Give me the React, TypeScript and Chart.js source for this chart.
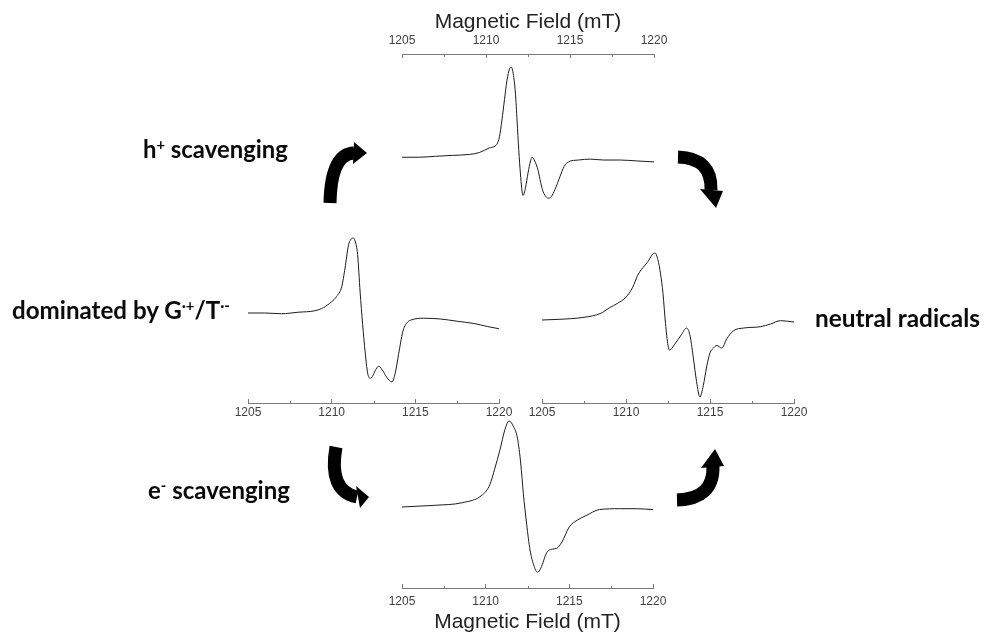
import React, { useEffect, useLayoutEffect, useRef } from "react";
import { Chart, registerables } from "chart.js";
Chart.register(...registerables);

// ---------- data ----------
const FIELD_MIN = 1205;
const FIELD_MAX = 1220;
const FIELD_STEP = 5;
const MINOR_TICKS = [1207.5, 1212.5, 1217.5];
const AXIS_TITLE = "Magnetic Field (mT)";

// top spectrum (after h+ scavenging)
const topField = [1205.0, 1206.0, 1207.0, 1208.0, 1209.0, 1209.6, 1210.2, 1210.65, 1210.8, 1210.95, 1211.1, 1211.25, 1211.4, 1211.5, 1211.6, 1211.75, 1211.85, 1211.95, 1212.05, 1212.2, 1212.35, 1212.5, 1212.65, 1212.75, 1212.9, 1213.1, 1213.25, 1213.4, 1213.6, 1213.75, 1213.9, 1214.1, 1214.4, 1214.65, 1214.9, 1215.5, 1216.2, 1217.0, 1218.0, 1219.0, 1220.0];
const topSignal = [0.03, 0.03, 0.04, 0.05, 0.06, 0.08, 0.13, 0.17, 0.25, 0.43, 0.65, 0.86, 0.98, 1.0, 0.95, 0.72, 0.42, 0.11, -0.15, -0.38, -0.3, -0.14, -0.01, 0.03, -0.01, -0.11, -0.24, -0.34, -0.4, -0.41, -0.39, -0.32, -0.18, -0.07, -0.02, 0.0, 0.01, 0.0, 0.0, -0.01, -0.02];

// left spectrum (dominated by G.+/T.-)
const leftField = [1205.0, 1206.0, 1207.0, 1208.0, 1209.0, 1209.5, 1210.0, 1210.3, 1210.6, 1210.8, 1211.0, 1211.15, 1211.28, 1211.4, 1211.55, 1211.7, 1211.85, 1212.0, 1212.15, 1212.3, 1212.45, 1212.6, 1212.8, 1213.0, 1213.3, 1213.6, 1213.8, 1214.0, 1214.25, 1214.5, 1214.8, 1215.5, 1216.5, 1217.5, 1218.5, 1219.3, 1220.0];
const leftSignal = [0.0, 0.0, -0.01, 0.01, 0.03, 0.07, 0.15, 0.22, 0.35, 0.6, 0.9, 0.98, 1.0, 0.96, 0.78, 0.28, -0.15, -0.52, -0.8, -0.87, -0.84, -0.77, -0.71, -0.75, -0.86, -0.92, -0.8, -0.55, -0.25, -0.13, -0.09, -0.07, -0.08, -0.11, -0.14, -0.18, -0.21];

// right spectrum (neutral radicals)
const rightField = [1205.0, 1206.0, 1207.5, 1208.5, 1209.0, 1209.5, 1210.0, 1210.4, 1210.7, 1211.0, 1211.3, 1211.55, 1211.73, 1211.9, 1212.05, 1212.2, 1212.35, 1212.5, 1212.6, 1212.9, 1213.3, 1213.6, 1213.8, 1214.0, 1214.2, 1214.4, 1214.6, 1214.8, 1215.0, 1215.2, 1215.4, 1215.7, 1216.0, 1216.4, 1217.0, 1218.0, 1218.6, 1219.2, 1220.0];
const rightSignal = [0.0, 0.01, 0.04, 0.1, 0.18, 0.25, 0.34, 0.49, 0.67, 0.78, 0.87, 0.97, 1.0, 0.9, 0.7, 0.4, -0.05, -0.38, -0.45, -0.36, -0.22, -0.12, -0.22, -0.55, -0.92, -1.15, -0.98, -0.7, -0.49, -0.42, -0.38, -0.42, -0.28, -0.16, -0.12, -0.1, -0.06, -0.01, -0.03];

// bottom spectrum (after e- scavenging)
const bottomField = [1205.0, 1206.0, 1207.0, 1208.6, 1209.8, 1210.25, 1210.55, 1210.85, 1211.15, 1211.4, 1211.65, 1211.9, 1212.1, 1212.25, 1212.45, 1212.65, 1212.9, 1213.1, 1213.3, 1213.65, 1214.0, 1214.25, 1214.55, 1215.0, 1215.5, 1216.0, 1216.8, 1218.0, 1219.0, 1220.0];
const bottomSignal = [0.0, 0.01, 0.02, 0.05, 0.14, 0.26, 0.45, 0.66, 0.9, 1.0, 0.94, 0.8, 0.5, 0.16, -0.2, -0.5, -0.69, -0.76, -0.71, -0.53, -0.49, -0.48, -0.41, -0.23, -0.15, -0.1, -0.03, -0.02, -0.02, -0.03];

// ---------- styles ----------
const AXIS_FONT = "'Liberation Sans', Arial, Helvetica, sans-serif";
const LABEL_FONT = "Lato, 'Open Sans', sans-serif";
const AXIS_COLOR = "#7a7a7a";

const minorTicksPlugin = {
  id: "minorTicks",
  afterDraw(chart: any) {
    const s = chart.scales.x;
    const ctx = chart.ctx;
    const isTop = s.options.position === "top";
    const y0 = Math.round(isTop ? s.bottom : s.top) + 0.5;
    ctx.save();
    ctx.strokeStyle = AXIS_COLOR;
    ctx.lineWidth = 1;
    MINOR_TICKS.forEach((v) => {
      const x = Math.round(s.getPixelForValue(v)) + 0.5;
      ctx.beginPath();
      ctx.moveTo(x, y0);
      ctx.lineTo(x, isTop ? y0 + 2.5 : y0 - 2.5);
      ctx.stroke();
    });
    ctx.restore();
  },
};

type SpecProps = {
  field: number[];
  signal: number[];
  left: number;
  top: number;
  width: number;
  height: number;
  axisPos: "top" | "bottom";
  axisHeight: number;
  yMin: number;
  yMax: number;
  tickPad: number;
  showTitle: boolean;
  titlePadTop: number;
  titlePadBottom: number;
};

function Spectrum(p: SpecProps) {
  const ref = useRef<HTMLCanvasElement>(null);
  useEffect(() => {
    const chart = new Chart(ref.current as HTMLCanvasElement, {
      type: "line",
      data: {
        datasets: [
          {
            data: p.field.map((x, i) => ({ x, y: p.signal[i] })),
            borderColor: "#1c1c1c",
            borderWidth: 1,
            pointRadius: 0,
            cubicInterpolationMode: "monotone",
            fill: false,
          },
        ],
      },
      options: {
        responsive: false,
        animation: false,
        devicePixelRatio: 1,
        layout: { padding: { left: 30, right: 30, top: 0, bottom: 0 } },
        plugins: { legend: { display: false }, tooltip: { enabled: false } },
        scales: {
          x: {
            type: "linear",
            position: p.axisPos,
            min: FIELD_MIN,
            max: FIELD_MAX,
            ticks: {
              stepSize: FIELD_STEP,
              padding: p.tickPad,
              maxRotation: 0,
              autoSkip: false,
              color: "#404040",
              font: { family: AXIS_FONT, size: 12 },
              callback: (v: any) => String(v),
            },
            grid: {
              drawOnChartArea: false,
              drawTicks: true,
              tickLength: -4,
              tickColor: AXIS_COLOR,
              tickWidth: 1,
            },
            border: { display: true, color: AXIS_COLOR, width: 1 },
            title: {
              display: p.showTitle,
              text: AXIS_TITLE,
              color: "#222",
              font: { family: AXIS_FONT, size: 21 },
              padding: { top: p.titlePadTop, bottom: p.titlePadBottom },
            },
            afterFit: (s: any) => {
              s.height = p.axisHeight;
            },
          } as any,
          y: { display: false, min: p.yMin, max: p.yMax },
        },
      },
      plugins: [minorTicksPlugin],
    } as any);
    return () => chart.destroy();
  }, []);
  return (
    <canvas
      ref={ref}
      width={p.width}
      height={p.height}
      style={{ position: "absolute", left: p.left, top: p.top, width: p.width, height: p.height }}
    />
  );
}

function FitLabel({ left, baseline, width, children }: { left: number; baseline: number; width: number; children: React.ReactNode }) {
  const ref = useRef<HTMLDivElement>(null);
  const mark = useRef<HTMLSpanElement>(null);
  useLayoutEffect(() => {
    const el = ref.current as HTMLDivElement;
    el.style.fontSize = "20px";
    const w = el.getBoundingClientRect().width;
    const fs = (20 * width) / w;
    el.style.fontSize = fs + "px";
    const off = (mark.current as HTMLSpanElement).offsetTop;
    el.style.top = baseline - off + "px";
  }, []);
  return (
    <div
      ref={ref}
      style={{
        position: "absolute",
        left,
        top: 0,
        whiteSpace: "nowrap",
        fontFamily: LABEL_FONT,
        fontWeight: 700,
        lineHeight: 1,
        color: "#0a0a0a",
      }}
    >
      {children}
      <span ref={mark} style={{ display: "inline-block", width: 0, height: 0, verticalAlign: "baseline" }} />
    </div>
  );
}

const supStyle: React.CSSProperties = { fontSize: "0.62em", verticalAlign: "0.55em", lineHeight: 0 };

function Arrow({ body, head }: { body: string; head: string }) {
  return (
    <g>
      <path d={body} fill="none" stroke="#000" strokeWidth={13} strokeLinecap="butt" />
      <polygon points={head} fill="#000" />
    </g>
  );
}

export default function App() {
  useEffect(() => {
    document.body.style.margin = "0";
    document.body.style.background = "#fff";
  }, []);
  return (
    <div style={{ position: "absolute", left: 0, top: 0, width: 985, height: 635, background: "#fff", overflow: "hidden" }}>
      <Spectrum field={topField} signal={topSignal} left={372} top={0} width={312} height={215} axisPos="top" axisHeight={54} yMin={-0.591} yMax={1.14} tickPad={10} showTitle={true} titlePadTop={10} titlePadBottom={0} />
      <Spectrum field={leftField} signal={leftSignal} left={218} top={225} width={311} height={200} axisPos="bottom" axisHeight={22} yMin={-1.2} yMax={1.173} tickPad={6} showTitle={false} titlePadTop={0} titlePadBottom={0} />
      <Spectrum field={rightField} signal={rightSignal} left={512} top={235} width={312} height={190} axisPos="bottom" axisHeight={22} yMin={-1.239} yMax={1.269} tickPad={6} showTitle={false} titlePadTop={0} titlePadBottom={0} />
      <Spectrum field={bottomField} signal={bottomSignal} left={372} top={410} width={311} height={225} axisPos="bottom" axisHeight={47} yMin={-0.942} yMax={1.128} tickPad={10} showTitle={true} titlePadTop={0} titlePadBottom={0} />

      <svg width={985} height={635} style={{ position: "absolute", left: 0, top: 0, pointerEvents: "none" }}>
        <Arrow body="M 330 203 Q 331 154 354 153" head="354,142 367,153 353,164" />
        <Arrow body="M 678 157 Q 712 158 711 190" head="700,189 723,191 716,208" />
        <Arrow body="M 336 447 Q 328 491 357 497" head="356,486 369,497 360,508" />
        <Arrow body="M 677 500 Q 714 499 713 466" head="701,468 724,466 715,449" />
      </svg>

      <FitLabel left={143} baseline={158} width={145}>
        h<span style={supStyle}>+</span> scavenging
      </FitLabel>
      <FitLabel left={12} baseline={319} width={218}>
        dominated by G<span style={supStyle}>·+</span>/T<span style={supStyle}>·-</span>
      </FitLabel>
      <FitLabel left={148} baseline={499} width={142}>
        e<span style={supStyle}>-</span> scavenging
      </FitLabel>
      <FitLabel left={815} baseline={327} width={165}>
        neutral radicals
      </FitLabel>
    </div>
  );
}
